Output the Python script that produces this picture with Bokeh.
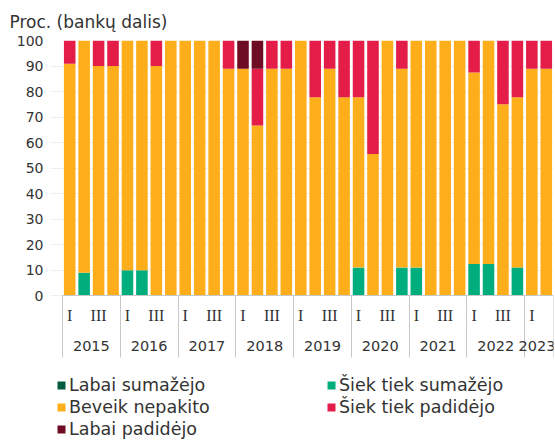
from bokeh.plotting import figure
from bokeh.models import (ColumnDataSource, Range1d, FixedTicker, LinearAxis,
                          Legend, LegendItem)
from bokeh.embed import file_html
from bokeh.resources import INLINE

years = ["2015", "2016", "2017", "2018", "2019", "2020", "2021", "2022", "2023"]
quarters_per_year = [4, 4, 4, 4, 4, 4, 4, 4, 2]
quarter_names = ["I", "II", "III", "IV"]
quarter_shown = ["I", "", "III", ""]

series_names = ["Labai sumažėjo", "Šiek tiek sumažėjo", "Beveik nepakito",
                "Šiek tiek padidėjo", "Labai padidėjo"]
colors = ["#005c3c", "#00ae7d", "#fdae1a", "#e31d48", "#6e0c23"]

labai_sumazejo = [0] * 34
siek_tiek_sumazejo = [0, 9.1, 0, 0, 10, 10, 0, 0, 0, 0, 0, 0, 0, 0, 0, 0, 0,
                      0, 0, 0, 11.1, 0, 0, 11.1, 11.1, 0, 0, 0, 12.5, 12.5, 0,
                      11.1, 0, 0]
beveik_nepakito = [90.9, 90.9, 90, 90, 90, 90, 90, 100, 100, 100, 100, 88.9,
                   88.9, 66.7, 88.9, 88.9, 100, 77.8, 88.9, 77.8, 66.7, 55.6,
                   100, 77.8, 88.9, 100, 100, 100, 75, 87.5, 75, 66.7, 88.9,
                   88.9]
siek_tiek_padidejo = [9.1, 0, 10, 10, 0, 0, 10, 0, 0, 0, 0, 11.1, 0, 22.2,
                      11.1, 11.1, 0, 22.2, 11.1, 22.2, 22.2, 44.4, 0, 11.1, 0,
                      0, 0, 0, 12.5, 0, 25, 22.2, 11.1, 11.1]
labai_padidejo = [0] * 12 + [11.1, 11.1] + [0] * 20

# positions derived from the category structure
labels_q = []
for y, n in zip(years, quarters_per_year):
    for q in range(n):
        labels_q.append(quarter_names[q])
n_bars = len(labels_q)
xpos = [i + 0.5 for i in range(n_bars)]

data = dict(x=xpos)
keys = ["ls", "sts", "bn", "stp", "lp"]
for k, vals in zip(keys, [labai_sumazejo, siek_tiek_sumazejo, beveik_nepakito,
                          siek_tiek_padidejo, labai_padidejo]):
    data[k] = vals
source = ColumnDataSource(data)

p = figure(width=555, height=441, output_backend="svg", toolbar_location=None,
           x_range=Range1d(-0.83, n_bars), y_range=Range1d(-57.0, 100),
           x_axis_location=None, min_border_left=50, min_border_right=2,
           min_border_top=40, min_border_bottom=0, outline_line_color=None)

p.title.text = "Proc. (bankų dalis)"
p.title.text_font = "DejaVu Sans"
p.title.text_font_size = "17px"
p.title.text_font_style = "normal"
p.title.text_color = "#333333"
p.title.offset = -41
p.title.standoff = 18

bars = p.vbar_stack(keys, x="x", width=0.8, source=source, color=colors,
                    line_color=None)

# y axis
yt = FixedTicker(ticks=list(range(0, 101, 10)))
p.yaxis.ticker = yt
p.yaxis.axis_line_color = None
p.yaxis.major_tick_line_color = None
p.yaxis.minor_tick_line_color = None
p.yaxis.major_label_text_font = "DejaVu Sans"
p.yaxis.major_label_text_font_size = "14px"
p.yaxis.major_label_text_color = "#333333"
p.yaxis.major_label_standoff = 1
p.ygrid.ticker = yt
p.ygrid.grid_line_color = "#eeeeee"
p.ygrid.bounds = (0, n_bars)
p.xgrid.grid_line_color = None

# separators between years + base line
bounds = [0]
for n in quarters_per_year:
    bounds.append(bounds[-1] + n)
sep_axis = LinearAxis(fixed_location=0, ticker=FixedTicker(ticks=bounds),
                      bounds=(0, n_bars),
                      major_tick_out=62, major_tick_in=0,
                      major_tick_line_color="#c8c8c8", axis_line_color="#c8c8c8",
                      minor_tick_line_color=None,
                      major_label_overrides={b: "" for b in bounds})
p.add_layout(sep_axis, "below")

# quarter labels
q_over = {}
for i, name in enumerate(labels_q):
    q_over[xpos[i]] = quarter_shown[quarter_names.index(name)]
q_axis = LinearAxis(fixed_location=0, ticker=FixedTicker(ticks=xpos),
                    major_tick_line_color=None, minor_tick_line_color=None,
                    axis_line_color=None, major_label_overrides=q_over,
                    major_label_standoff=5,
                    major_label_text_font="Liberation Serif",
                    major_label_text_font_size="16px",
                    major_label_text_color="#333333")
p.add_layout(q_axis, "below")

# year labels
y_centers = [(bounds[i] + bounds[i + 1]) / 2 for i in range(len(years))]
y_centers = [int(c) if c == int(c) else c for c in y_centers]
y_over = {c: yr for c, yr in zip(y_centers, years)}
y_axis2 = LinearAxis(fixed_location=0, ticker=FixedTicker(ticks=y_centers),
                     major_tick_line_color=None, minor_tick_line_color=None,
                     axis_line_color=None, major_label_overrides=y_over,
                     major_label_standoff=39,
                     major_label_text_font="DejaVu Sans",
                     major_label_text_font_size="14.5px",
                     major_label_text_color="#333333")
p.add_layout(y_axis2, "below")

# legend swatches: hidden quads sharing the bar data
sw = []
for k, c in zip(keys, colors):
    r = p.quad(left="x", right="x", top=k, bottom=k, source=source,
               fill_color=c, line_color=None, visible=False)
    sw.append(r)
items = [LegendItem(label=name, renderers=[r]) for name, r in zip(series_names, sw)]
legend = Legend(items=items, location=(6, 2), orientation="horizontal", ncols=2,
                label_text_font="DejaVu Sans", label_text_font_size="17.5px",
                label_text_color="#333333", glyph_width=10, glyph_height=10,
                label_standoff=3, label_width=255, label_height=20, spacing=2,
                padding=0, margin=0, border_line_color=None,
                background_fill_alpha=0, inactive_fill_alpha=0)
p.add_layout(legend, "center")

open("out.html", "w").write(file_html(p, INLINE))
